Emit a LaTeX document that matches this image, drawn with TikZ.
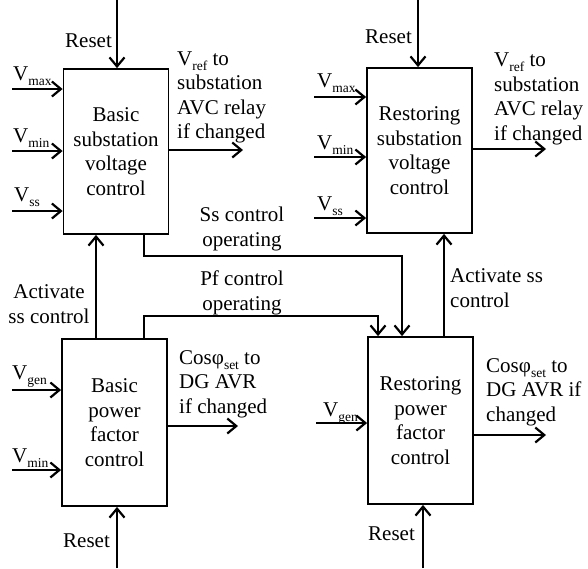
\documentclass[tikz,border=0pt]{standalone}
\usepackage{fontspec}
\setmainfont{Liberation Serif}
\usetikzlibrary{arrows.meta}
% small lowered index, as in V_max
\newcommand\lowsub[1]{\raisebox{-5pt}{\fontsize{13.5}{13.5}\selectfont #1}}
\begin{document}
\begin{tikzpicture}[x=1pt,y=-1pt,
  every node/.style={font=\fontsize{21}{24.5}\selectfont, inner sep=0pt},
  blk/.style={draw, line width=1.8pt, minimum width=105pt, align=center},
  arr/.style={line width=2.2pt, -{Straight Barb[length=9pt,width=15pt,line width=2.2pt]}},
  lbl/.style={anchor=base west, align=left},
  clbl/.style={anchor=base, align=center}]
\useasboundingbox[fill=white] (0,0) rectangle (588,568);

% control blocks
\node[blk, minimum height=165pt] (b1) at (116,151.5) {Basic\\substation\\voltage\\control};
\node[blk, minimum height=165pt] (b2) at (419.5,150.5) {Restoring\\substation\\voltage\\control};
\node[blk, minimum height=167pt] (b3) at (114.5,422.5) {Basic\\power\\factor\\control};
\node[blk, minimum height=167pt] (b4) at (420.5,420.5) {Restoring\\power\\factor\\control};

% free ends of the signals
\coordinate (r1) at (117,0);
\coordinate (r2) at (418,0);
\coordinate (r3) at (117,568);
\coordinate (r4) at (423,568);
\coordinate (mx1) at (12,89);
\coordinate (mn1) at (12,151);
\coordinate (ss1) at (12,211);
\coordinate (mx2) at (314,97);
\coordinate (mn2) at (314,157);
\coordinate (ss2) at (314,218);
\coordinate (g3) at (12,390);
\coordinate (mn3) at (12,470);
\coordinate (g4) at (316,423);
\coordinate (o1) at (243,150);
\coordinate (o2) at (546,149);
\coordinate (o3) at (238,426);
\coordinate (o4) at (546,435);
\coordinate (act1) at (96,0);
\coordinate (act2) at (444,0);
\coordinate (ssA) at (144,256);
\coordinate (ssB) at (402,256);
\coordinate (pfA) at (144,316);
\coordinate (pfB) at (378,316);

% reset inputs
\draw[arr] (r1) -- (r1 |- b1.north);
\draw[arr] (r2) -- (r2 |- b2.north);
\draw[arr] (r3) -- (r3 |- b3.south);
\draw[arr] (r4) -- (r4 |- b4.south);

% voltage inputs
\draw[arr] (mx1) -- (mx1 -| b1.west);
\draw[arr] (mn1) -- (mn1 -| b1.west);
\draw[arr] (ss1) -- (ss1 -| b1.west);
\draw[arr] (mx2) -- (mx2 -| b2.west);
\draw[arr] (mn2) -- (mn2 -| b2.west);
\draw[arr] (ss2) -- (ss2 -| b2.west);
\draw[arr] (g3) -- (g3 -| b3.west);
\draw[arr] (mn3) -- (mn3 -| b3.west);
\draw[arr] (g4) -- (g4 -| b4.west);

% set-point outputs
\draw[arr] (o1 -| b1.east) -- (o1);
\draw[arr] (o2 -| b2.east) -- (o2);
\draw[arr] (o3 -| b3.east) -- (o3);
\draw[arr] (o4 -| b4.east) -- (o4);

% activation and operating signals
\draw[arr] (b3.north -| act1) -- (b1.south -| act1);
\draw[arr] (b4.north -| act2) -- (b2.south -| act2);
\draw[arr] (b1.south -| ssA) -- (ssA) -- (ssB) -- (b4.north -| ssB);
\draw[arr] (b3.north -| pfA) -- (pfA) -- (pfB) -- (b4.north -| pfB);

% labels (base = baseline of the last line)
\node[lbl] (lr1) at (65,47) {Reset};
\node[lbl] (lr2) at (365,43) {Reset};
\node[lbl] (lr3) at (63,547) {Reset};
\node[lbl] (lr4) at (368,540) {Reset};

\node[lbl] (lmx1) at (13,80) {V\lowsub{max}};
\node[lbl] (lmn1) at (13,142) {V\lowsub{min}};
\node[lbl] (lss1) at (14,201) {V\lowsub{ss}};
\node[lbl] (lmx2) at (317,87) {V\lowsub{max}};
\node[lbl] (lmn2) at (317,149) {V\lowsub{min}};
\node[lbl] (lss2) at (317,210) {V\lowsub{ss}};
\node[lbl] (lg3) at (12,379) {V\lowsub{gen}};
\node[lbl] (lmn3) at (12,462) {V\lowsub{min}};
\node[lbl] (lg4) at (323,416) {V\lowsub{gen}};

\node[lbl] (lo1) at (177,138.5) {V\lowsub{ref} to\\substation\\AVC relay\\if changed};
\node[lbl] (lo2) at (494,140) {V\lowsub{ref} to\\substation\\AVC relay\\if changed};
\node[lbl] (lo3) at (179,413) {Cosφ\lowsub{set} to\\DG AVR\\if changed};
\node[lbl] (lo4) at (486,421) {Cosφ\lowsub{set} to\\DG AVR if\\changed};

\node[clbl] (lact1) at (49,323) {Activate\\ss control};
\node[lbl] (lact2) at (450,307) {Activate ss\\control};
\node[clbl] (lss) at (242,246) {Ss control\\operating};
\node[clbl] (lpf) at (242,310) {Pf control\\operating};
\end{tikzpicture}
\end{document}
